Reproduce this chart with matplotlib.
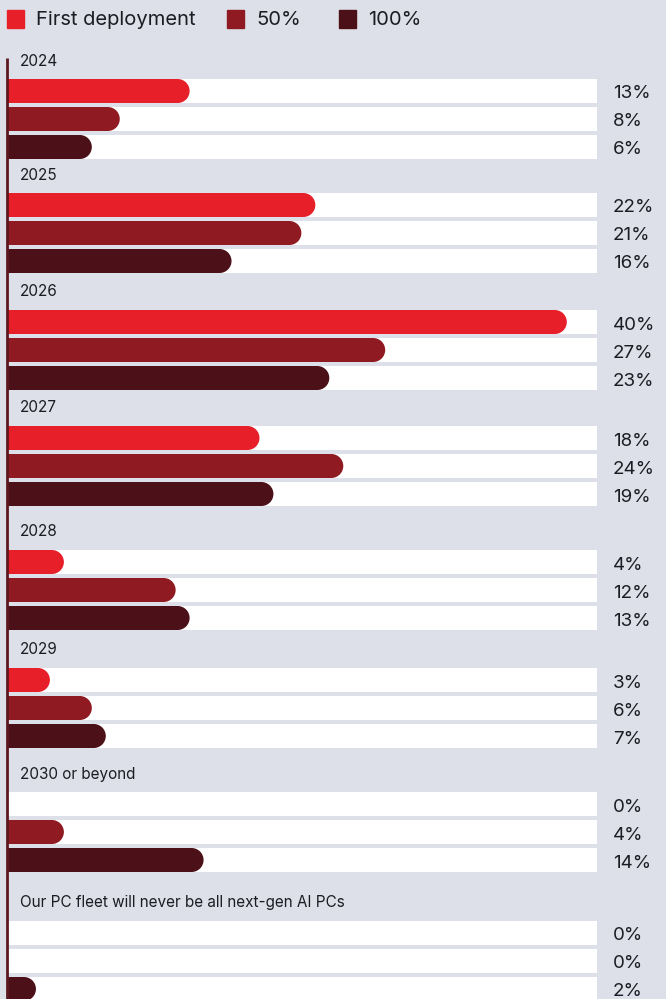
import numpy as np
import matplotlib
matplotlib.use("Agg")
import matplotlib.pyplot as plt
from matplotlib.patches import Ellipse, Rectangle

# data
groups = ["2024", "2025", "2026", "2027", "2028", "2029", "2030 or beyond",
          "Our PC fleet will never be all next-gen AI PCs"]
series = ["First deployment", "50%", "100%"]
first_deployment = [13, 22, 40, 18, 4, 3, 0, 0]
half_fleet = [8, 21, 27, 24, 12, 6, 4, 0]
full_fleet = [6, 16, 23, 19, 13, 7, 14, 2]

colors = ["#e61f29", "#8f1a22", "#4b1018"]
bg = "#dde0e8"
text_color = "#1c1c24"

# layout (pixels)
W, H = 666, 999
x0 = 8                # left edge of bars
px_per_pct = 13.97
track_max = 42.15     # white track length in %
bar_h = 24
bar_pitch = 28
first_top = 79
group_gaps = [114, 117, 116, 124, 118, 124, 129]

plt.rcParams['font.family'] = ['Inter', 'DejaVu Sans']

fig = plt.figure(figsize=(W / 100, H / 100), dpi=100, facecolor=bg)
ax = fig.add_axes([0, 0, 1, 1])
ax.set_facecolor(bg)
ax.set_xlim(-x0 / px_per_pct, (W - x0) / px_per_pct)
ax.set_ylim(H, 0)
ax.axis("off")

# radius of the rounded end, in x units
rx = (bar_h / 2) / px_per_pct

tops = np.concatenate([[first_top], first_top + np.cumsum(group_gaps)])
values = [first_deployment, half_fleet, full_fleet]

for gi, g in enumerate(groups):
    top = tops[gi]
    ax.text(12 / px_per_pct, top - 18, g, fontsize=11, color=text_color,
            va="center", ha="left")
    for si in range(3):
        yc = top + bar_h / 2 + si * bar_pitch
        v = values[si][gi]
        ax.barh(yc, track_max, height=bar_h, left=0, color="white", zorder=1)
        if v > 0:
            ax.barh(yc, v - rx, height=bar_h, left=0, color=colors[si],
                    zorder=2, linewidth=0)
            ax.add_patch(Ellipse((v - rx, yc), 2 * rx, bar_h,
                                 color=colors[si], zorder=2, linewidth=0))
        ax.text((613 - x0) / px_per_pct, yc + 3, f"{v}%", fontsize=13.5,
                color=text_color, va="center", ha="left")

# vertical axis line
ax.plot([-1 / px_per_pct, -1 / px_per_pct], [58, H], color="#5c1820",
        lw=2, zorder=3, solid_capstyle="butt")

# legend
leg_x = [7, 227, 339]
for si, name in enumerate(series):
    lx = leg_x[si]
    ax.add_patch(Rectangle(((lx - x0) / px_per_pct, 10), 17 / px_per_pct, 18,
                           color=colors[si], zorder=3))
    ax.text((lx + 29 - x0) / px_per_pct, 20, name, fontsize=14.5,
            color=text_color, va="center", ha="left")

fig.savefig("out.png", dpi=100, facecolor=bg)
